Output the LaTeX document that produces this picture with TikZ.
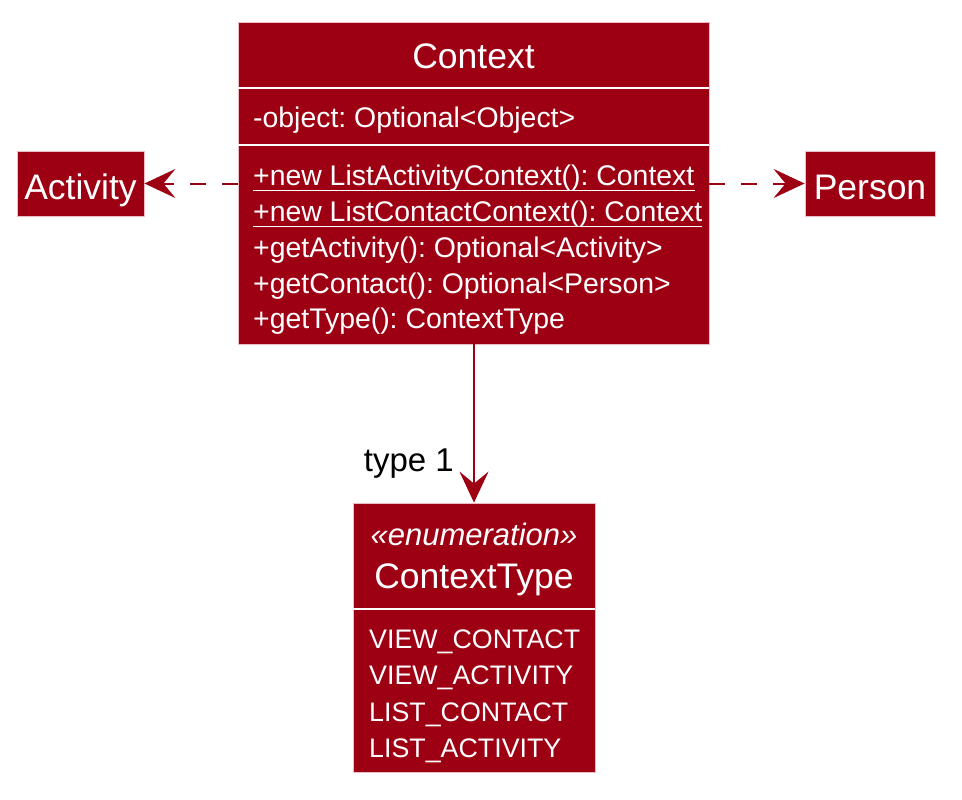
\documentclass[tikz,border=0pt]{standalone}
\usepackage{fontspec}
\setmainfont{Liberation Sans}
\frenchspacing
\usetikzlibrary{arrows.meta}
\definecolor{pu}{RGB}{158,0,19}
\definecolor{puedge}{RGB}{236,190,196}
\tikzset{
  umlbox/.style={rectangle, fill=pu, draw=puedge, line width=0.8pt, inner sep=0pt},
  titletext/.style={text=white, inner sep=0pt, anchor=base, font=\fontsize{35.5}{40}\selectfont},
  membertext/.style={text=white, inner sep=0pt, anchor=base west, font=\fontsize{28.4}{32}\selectfont},
  enumtext/.style={text=white, inner sep=0pt, anchor=base west, font=\fontsize{26.8}{32}\selectfont},
  stereotext/.style={text=white, inner sep=0pt, anchor=base, font=\fontsize{31}{34}\selectfont\itshape},
  septline/.style={draw=white, line width=2pt},
  uline/.style={draw=white, line width=1.5pt},
  umltip/.style={-{Stealth[length=31pt, width=29pt, inset=12pt]}},
  dep/.style={draw=pu, line width=2pt, umltip, dash pattern=on 16pt off 16pt},
  assoc/.style={draw=pu, line width=2pt, umltip},
  labeltext/.style={text=black, inner sep=0pt, anchor=base east, font=\fontsize{33}{36}\selectfont}
}
\begin{document}
\begin{tikzpicture}[x=1pt, y=-1pt]
\useasboundingbox (0,0) rectangle (962,800);

% Context class
\node[umlbox, minimum width=471pt, minimum height=322pt] (context) at (473.5,183) {};
\node[titletext] (ctxtitle) at (473.5,68.3) {Context};
\draw[septline] (context.west |- 0,88) -- (context.east |- 0,88);
\node[membertext] (attr) at (253,127.7) {-object: Optional<Object>};
\draw[septline] (context.west |- 0,145) -- (context.east |- 0,145);
\node[membertext] (m1) at (253,185.7) {+new ListActivityContext(): Context};
\draw[uline] ([yshift=-5pt]m1.base west) -- ([yshift=-5pt]m1.base east);
\node[membertext] (m2) at (253,221.7) {+new ListContactContext(): Context};
\draw[uline] ([yshift=-5pt]m2.base west) -- ([yshift=-5pt]m2.base east);
\node[membertext] (m3) at (253,257.7) {+getActivity(): Optional<Activity>};
\node[membertext] (m4) at (253,293.2) {+getContact(): Optional<Person>};
\node[membertext] (m5) at (253,328.5) {+getType(): ContextType};

% Activity
\node[umlbox, minimum width=127pt, minimum height=65pt] (activity) at (80.5,183.5) {};
\node[titletext] (acttitle) at (80.5,199) {Activity};

% Person
\node[umlbox, minimum width=130pt, minimum height=65pt] (person) at (870,183.5) {};
\node[titletext] (pertitle) at (870,199) {Person};

% ContextType enum
\node[umlbox, minimum width=242pt, minimum height=269pt] (enum) at (474,637.5) {};
\node[stereotext] (stereo) at (474,545) {«enumeration»};
\node[titletext] (enumtitle) at (474,588) {ContextType};
\draw[septline] (enum.west |- 0,609) -- (enum.east |- 0,609);
\node[enumtext] (e1) at (369,648) {VIEW\_CONTACT};
\node[enumtext] (e2) at (369,684.5) {VIEW\_ACTIVITY};
\node[enumtext] (e3) at (369,721) {LIST\_CONTACT};
\node[enumtext] (e4) at (369,757) {LIST\_ACTIVITY};

% Connectors
\draw[dep] (context.west |- activity.east) -- (activity.east);
\draw[dep] (context.east |- person.west) -- (person.west);
\draw[assoc] (context.south -| enum.north) -- (enum.north);
\node[labeltext] (typelabel) at (454,471.7) {type 1};
\end{tikzpicture}
\end{document}
